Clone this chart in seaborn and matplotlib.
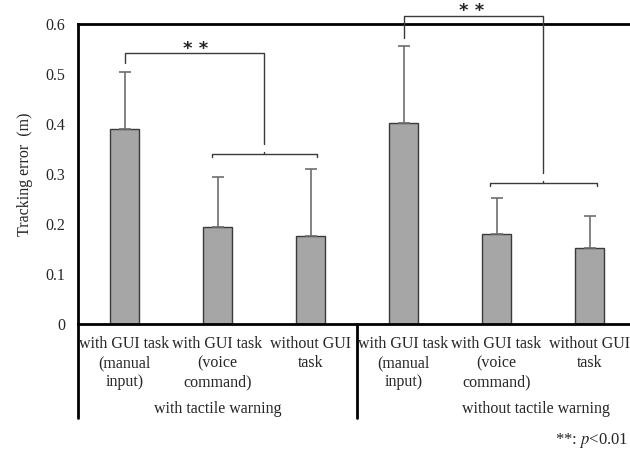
import numpy as np
import pandas as pd
import matplotlib
matplotlib.use("Agg")
import matplotlib.pyplot as plt
import matplotlib.transforms as mtransforms
import seaborn as sns

# Mean tracking error and upper standard deviation per condition
conditions = ["tw_manual", "tw_voice", "tw_none", "nw_manual", "nw_voice", "nw_none"]
task_labels = ["with GUI task\n(manual\ninput)", "with GUI task\n(voice\ncommand)", "without GUI\ntask",
               "with GUI task\n(manual\ninput)", "with GUI task\n(voice\ncommand)", "without GUI\ntask"]
group_labels = ["with tactile warning", "without tactile warning"]
means = [0.39, 0.195, 0.177, 0.403, 0.181, 0.152]
sds = [0.115, 0.099, 0.133, 0.154, 0.071, 0.065]
yticks = [0, 0.1, 0.2, 0.3, 0.4, 0.5, 0.6]

sns.set_theme(style="white")
plt.rcParams["font.family"] = ["Liberation Serif", "DejaVu Serif"]
plt.rcParams["mathtext.fontset"] = "stix"

df = pd.DataFrame({"condition": conditions, "error": means})

fig = plt.figure(figsize=(6.3, 4.53), dpi=100)
ax = fig.add_axes([78 / 630, 1 - 324 / 453, 558 / 630, 300 / 453])

sns.barplot(data=df, x="condition", y="error", order=conditions, color="#A6A6A6",
            saturation=1, width=0.31, edgecolor="#3a3a3a", linewidth=1.0, errorbar=None, ax=ax)

xs = np.arange(len(conditions))
ax.errorbar(xs, means, yerr=[np.zeros(len(sds)), sds], fmt="none", ecolor="#6e6e6e",
            elinewidth=1.2, capsize=4, capthick=1.2, zorder=1)

ax.set_xlim(-0.5, 5.5)
ax.set_ylim(0, 0.6)
ax.set_yticks(yticks)
ax.set_yticklabels(["0" if v == 0 else f"{v:.1f}" for v in yticks], fontsize=11.5)
ax.tick_params(axis="y", length=0, pad=9)
ax.set_xticks([])
ax.set_xlabel("")
ax.set_ylabel("Tracking error  (m)", fontsize=11.5, labelpad=9)

for side in ["left", "top", "bottom"]:
    ax.spines[side].set_visible(True)
    ax.spines[side].set_linewidth(2.0)
    ax.spines[side].set_color("black")
ax.spines["right"].set_visible(False)

# Category axis: separators and multi-level labels below the plot
trans = mtransforms.blended_transform_factory(ax.transData, ax.transAxes)
sep_bottom = -(418 - 324) / 300
for xsep in [-0.5, 2.5]:
    ax.plot([xsep, xsep], [0, sep_bottom], color="black", lw=2.0, transform=trans, clip_on=False)

label_top = -(336 - 324) / 300
for x, lab in zip(xs, task_labels):
    ax.text(x, label_top, lab, transform=trans, ha="center", va="top", fontsize=11.5,
            linespacing=1.25)
group_y = -(409 - 324) / 300
ax.text(1.0, group_y, group_labels[0], transform=trans, ha="center", va="center", fontsize=11.5)
ax.text(4.42, group_y, group_labels[1], transform=trans, ha="center", va="center", fontsize=11.5)

# Significance brackets
bk = dict(color="#3a3a3a", lw=1.0, clip_on=False, zorder=3)

def bracket(x_single, y_low, y_top, x_pair_c, y_drop, x_l, x_r, y_pair, stars_x):
    ax.plot([x_single, x_single, x_pair_c, x_pair_c], [y_low, y_top, y_top, y_drop], **bk)
    ax.plot([x_l, x_l, x_r, x_r], [y_pair - 0.006, y_pair, y_pair, y_pair - 0.006], **bk)
    ax.plot([x_pair_c, x_pair_c], [y_pair, y_pair + 0.004], **bk)
    ax.text(stars_x, y_top + 0.009, "* *", ha="center", va="center", fontsize=13,
            fontweight="bold", family="DejaVu Sans", clip_on=False)

bracket(0, 0.522, 0.542, 1.5, 0.36, 0.94, 2.07, 0.34, 0.77)
bracket(3, 0.572, 0.616, 4.5, 0.302, 3.93, 5.08, 0.283, 3.73)

fig.text(628 / 630, 1 - 440 / 453, "**: $p$<0.01", ha="right", va="center", fontsize=12)

fig.savefig("out.png", dpi=100)
